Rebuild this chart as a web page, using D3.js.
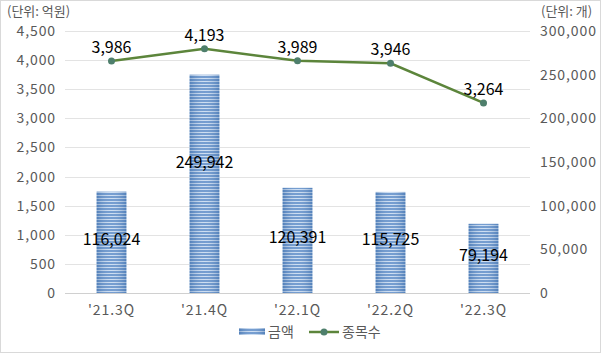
<!DOCTYPE html>
<html>
<head>
<meta charset="utf-8">
<script src="https://cdn.jsdelivr.net/npm/d3@7"></script>
<style>
  body { margin: 0; background: #fff; }
  text { font-family: "Noto Sans CJK KR", "Noto Sans", sans-serif; }
</style>
</head>
<body>
<script>
// data
var quarters = ["'21.3Q", "'21.4Q", "'22.1Q", "'22.2Q", "'22.3Q"];
var amounts = [116024, 249942, 120391, 115725, 79194];   // 금액 (bars, right axis)
var counts = [3986, 4193, 3989, 3946, 3264];             // 종목수 (line, left axis)
var leftTicks = [0, 500, 1000, 1500, 2000, 2500, 3000, 3500, 4000, 4500];
var rightTicks = [0, 50000, 100000, 150000, 200000, 250000, 300000];

var W = 602, H = 354;
var margin = {top: 31, right: 72, bottom: 61, left: 65};
var w = W - margin.left - margin.right,
    h = H - margin.top - margin.bottom;

var svg = d3.select("body").append("svg")
    .attr("width", W)
    .attr("height", H);

// outer border
svg.append("rect")
    .attr("x", 0.5).attr("y", 0.5)
    .attr("width", W - 2).attr("height", H - 2)
    .attr("fill", "#fff")
    .attr("stroke", "#d9d9d9");

var defs = svg.append("defs");
var pat = defs.append("pattern")
    .attr("id", "stripes")
    .attr("patternUnits", "userSpaceOnUse")
    .attr("width", 4).attr("height", 3);
pat.append("rect").attr("width", 4).attr("height", 3).attr("fill", "#6592cb");
pat.append("rect").attr("y", 2).attr("width", 4).attr("height", 1).attr("fill", "#c9dbf1");

var grad = defs.append("linearGradient")
    .attr("id", "shade")
    .attr("x1", "0").attr("x2", "1").attr("y1", "0").attr("y2", "0");
grad.append("stop").attr("offset", "0").attr("stop-color", "#2f5f9a").attr("stop-opacity", 0.35);
grad.append("stop").attr("offset", "0.5").attr("stop-color", "#ffffff").attr("stop-opacity", 0.1);
grad.append("stop").attr("offset", "1").attr("stop-color", "#2f5f9a").attr("stop-opacity", 0.35);

var g = svg.append("g")
    .attr("transform", "translate(" + margin.left + "," + margin.top + ")");

var x = d3.scaleBand().domain(quarters).range([0, w]).paddingInner(0.68).paddingOuter(0.34);
var xc = d3.scaleBand().domain(quarters).range([0, w]);
var yL = d3.scaleLinear().domain([0, 4500]).range([h, 0]);
var yR = d3.scaleLinear().domain([0, 300000]).range([h, 0]);

var fmt = d3.format(",");

function styleTicks(s) {
  s.select(".domain").remove();
  s.selectAll("text")
    .attr("font-size", 14).attr("fill", "#595959")
    .attr("letter-spacing", "0.9px")
    .attr("font-family", "'Noto Sans CJK KR', sans-serif");
}

// gridlines
g.selectAll(".grid")
    .data(leftTicks)
  .enter().append("line")
    .attr("x1", 0).attr("x2", w)
    .attr("y1", function(d) { return Math.round(yL(d)) + 0.5; })
    .attr("y2", function(d) { return Math.round(yL(d)) + 0.5; })
    .attr("stroke", function(d) { return d === 0 ? "#d0d0d0" : "#e3e3e3"; })
    .attr("stroke-width", 1);

// left axis
g.append("g")
    .call(d3.axisLeft(yL).tickValues(leftTicks).tickFormat(fmt).tickSize(0).tickPadding(9))
    .call(styleTicks);

// right axis
g.append("g").attr("transform", "translate(" + w + ",0)")
    .call(d3.axisRight(yR).tickValues(rightTicks).tickFormat(fmt).tickSize(0).tickPadding(10))
    .call(styleTicks);

// x axis
g.append("g").attr("transform", "translate(0," + h + ")")
    .call(d3.axisBottom(xc).tickSize(0).tickPadding(12))
    .call(styleTicks);

// bars
g.selectAll(".bar")
    .data(amounts)
  .enter().append("rect")
    .attr("x", function(d, i) { return x(quarters[i]); })
    .attr("y", function(d) { return yR(d); })
    .attr("width", x.bandwidth())
    .attr("height", function(d) { return h - yR(d); })
    .attr("fill", "url(#stripes)");
g.selectAll(".barshade")
    .data(amounts)
  .enter().append("rect")
    .attr("x", function(d, i) { return x(quarters[i]); })
    .attr("y", function(d) { return yR(d); })
    .attr("width", x.bandwidth())
    .attr("height", function(d) { return h - yR(d); })
    .attr("fill", "url(#shade)");

// bar labels
g.selectAll(".blabel")
    .data(amounts)
  .enter().append("text")
    .attr("x", function(d, i) { return xc(quarters[i]) + xc.bandwidth() / 2; })
    .attr("y", function(d, i) { return (yR(d) + h) / 2 + (i === 1 ? -21 : -3); })
    .attr("dy", "0.35em")
    .attr("text-anchor", "middle")
    .attr("font-size", 16)
    .attr("fill", "#000")
    .text(function(d) { return fmt(d); });

// line
var cx = function(d, i) { return xc(quarters[i]) + xc.bandwidth() / 2; };
var line = d3.line()
    .x(cx)
    .y(function(d) { return yL(d); });
g.append("path")
    .datum(counts)
    .attr("d", line)
    .attr("fill", "none")
    .attr("stroke", "#5c853b")
    .attr("stroke-width", 2.5);
g.selectAll(".dot")
    .data(counts)
  .enter().append("circle")
    .attr("cx", cx)
    .attr("cy", function(d) { return yL(d); })
    .attr("r", 3.5)
    .attr("fill", "#4e7f6c");
g.selectAll(".llabel")
    .data(counts)
  .enter().append("text")
    .attr("x", cx)
    .attr("y", function(d) { return yL(d) - 8; })
    .attr("text-anchor", "middle")
    .attr("font-size", 16)
    .attr("fill", "#000")
    .text(function(d) { return fmt(d); });

// unit titles
svg.append("text").attr("x", 7).attr("y", 16)
    .attr("font-size", 13).attr("fill", "#595959").text("(단위: 억원)");
svg.append("text").attr("x", 541).attr("y", 16)
    .attr("font-size", 13).attr("fill", "#595959").text("(단위: 개)");

// legend
var lg = svg.append("g").attr("transform", "translate(0,332)");
lg.append("rect").attr("x", 239).attr("y", -4).attr("width", 26).attr("height", 7).attr("fill", "url(#stripes)");
lg.append("rect").attr("x", 239).attr("y", -4).attr("width", 26).attr("height", 7).attr("fill", "url(#shade)");
lg.append("text").attr("x", 268).attr("y", 0).attr("dy", "0.35em")
    .attr("font-size", 14).attr("fill", "#595959").text("금액");
lg.append("line").attr("x1", 309).attr("x2", 339).attr("y1", 0).attr("y2", 0)
    .attr("stroke", "#5c853b").attr("stroke-width", 2.5);
lg.append("circle").attr("cx", 324).attr("cy", 0).attr("r", 3.5).attr("fill", "#4e7f6c");
lg.append("text").attr("x", 342).attr("y", 0).attr("dy", "0.35em")
    .attr("font-size", 14).attr("fill", "#595959").text("종목수");
</script>
</body>
</html>
